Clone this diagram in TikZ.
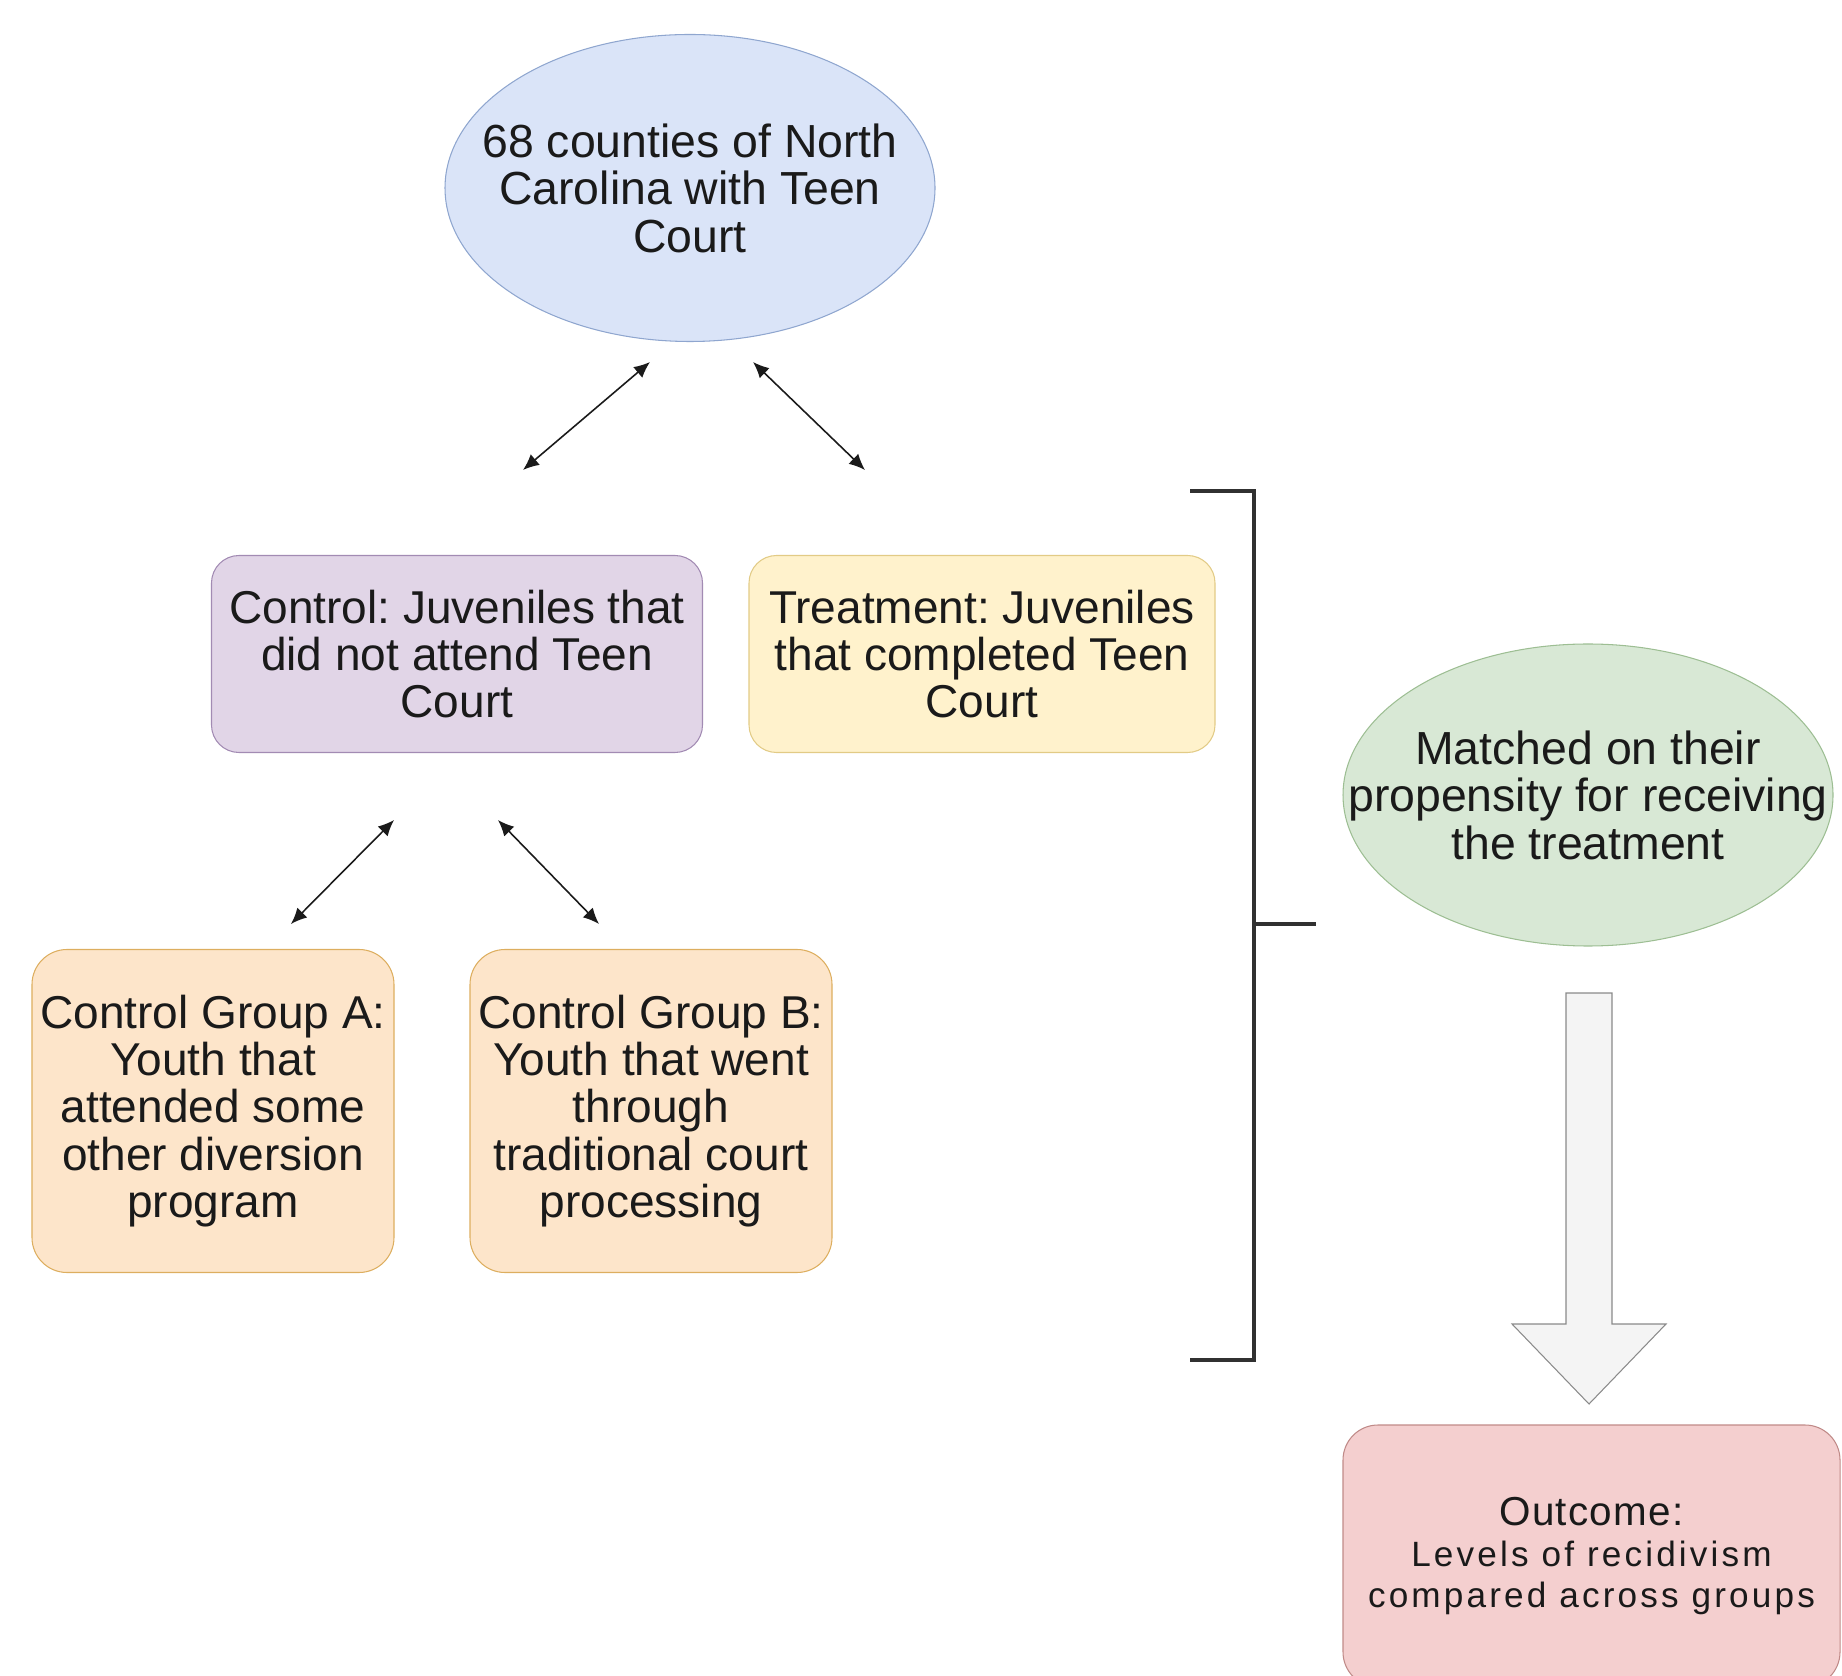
\documentclass[tikz,border=0pt]{standalone}
\usepackage{fontspec}
\setmainfont{Liberation Sans}
\newfontfamily\spacedfont[LetterSpace=9]{Liberation Sans}
\newfontfamily\headfont[LetterSpace=3]{Liberation Sans}
\usepackage{xcolor}
\usetikzlibrary{positioning, arrows.meta, shapes.geometric}
\frenchspacing

\definecolor{blueFill}{HTML}{DAE4F8}
\definecolor{blueLine}{HTML}{8FA6CF}
\definecolor{purpleFill}{HTML}{E1D5E7}
\definecolor{purpleLine}{HTML}{A28BB3}
\definecolor{yellowFill}{HTML}{FFF2CC}
\definecolor{yellowLine}{HTML}{E2CB86}
\definecolor{orangeFill}{HTML}{FDE5CA}
\definecolor{orangeLine}{HTML}{DDAE5F}
\definecolor{greenFill}{HTML}{D8E8D5}
\definecolor{greenLine}{HTML}{9DBE93}
\definecolor{redFill}{HTML}{F4CFCF}
\definecolor{redLine}{HTML}{C08A88}
\definecolor{greyFill}{HTML}{F4F4F4}
\definecolor{greyLine}{HTML}{8A8A8A}
\definecolor{textColor}{HTML}{1A1A1A}

\begin{document}
\begin{tikzpicture}
	\tikzstyle{oval}=[ellipse, line width=0.6pt, inner sep=0pt]
	\tikzstyle{ovaltext}=[align=center, text=textColor, font=\fontsize{26.4}{27}\selectfont]
	\tikzstyle{box}=[rectangle, rounded corners=0.55cm, line width=0.6pt, inner sep=0pt, align=center, text=textColor, font=\fontsize{26.2}{27}\selectfont]
	\tikzstyle{link}=[<->, >={Latex[length=3.2mm, width=2.8mm]}, line width=0.9pt, textColor]
	\tikzstyle{bracket}=[line width=2pt, textColor!90]

	\clip (0,0) rectangle (36.84,33.5);

	% groups
	\node[oval, fill=blueFill, draw=blueLine, minimum width=9.8cm, minimum height=6.14cm,
		label={[ovaltext]center:68 counties of North\\Carolina with Teen\\Court}](county) at (13.8,29.74) {};
	\node[box, fill=purpleFill, draw=purpleLine, minimum width=9.82cm, minimum height=3.94cm](control) at (9.14,20.42) {Control: Juveniles that\\did not attend Teen\\Court};
	\node[box, fill=yellowFill, draw=yellowLine, minimum width=9.32cm, minimum height=3.94cm](treat) at (19.64,20.42) {Treatment: Juveniles\\that completed Teen\\Court};
	\node[box, rounded corners=0.7cm, fill=orangeFill, draw=orangeLine, minimum width=7.24cm, minimum height=6.46cm](groupA) at (4.26,11.28) {Control Group A:\\Youth that\\attended some\\other diversion\\program};
	\node[box, rounded corners=0.7cm, fill=orangeFill, draw=orangeLine, minimum width=7.24cm, minimum height=6.46cm](groupB) at (13.02,11.28) {Control Group B:\\Youth that went\\through\\traditional court\\processing};

	% matching and outcome
	\node[oval, fill=greenFill, draw=greenLine, minimum width=9.8cm, minimum height=6.04cm,
		label={[ovaltext]center:Matched on their\\propensity for receiving\\the treatment}](match) at (31.76,17.6) {};
	\node[box, rounded corners=0.7cm, fill=redFill, draw=redLine, minimum width=9.94cm, minimum height=5.24cm,
		font=\spacedfont\fontsize{20}{23.4}\selectfont](outcome) at (31.83,2.38) {{\headfont\fontsize{23}{23.4}\selectfont Outcome:}\\Levels of recidivism\\compared across groups};

	% double arrows
	\coordinate (c1) at (13.0,26.26);
	\coordinate (c2) at (10.46,24.1);
	\coordinate (c3) at (15.06,26.26);
	\coordinate (c4) at (17.3,24.1);
	\coordinate (c5) at (7.88,17.1);
	\coordinate (c6) at (5.82,15.02);
	\coordinate (c7) at (9.96,17.1);
	\coordinate (c8) at (11.98,15.02);
	\draw[link](c1) -- (c2);
	\draw[link](c3) -- (c4);
	\draw[link](c5) -- (c6);
	\draw[link](c7) -- (c8);

	% bracket
	\coordinate (b1) at (23.8,23.68);
	\coordinate (b2) at (25.08,23.68);
	\coordinate (b3) at (25.08,6.3);
	\coordinate (b4) at (23.8,6.3);
	\coordinate (b5) at (25.08,15.02);
	\coordinate (b6) at (26.32,15.02);
	\draw[bracket](b1) -- (b2) -- (b3) -- (b4);
	\draw[bracket](b5) -- (b6);

	% block arrow
	\draw[fill=greyFill, draw=greyLine, line width=0.6pt] (31.32,13.64) -- (32.24,13.64) -- (32.24,7.02) -- (33.32,7.02)
		-- (31.78,5.42) -- (30.24,7.02) -- (31.32,7.02) -- cycle;
\end{tikzpicture}
\end{document}
